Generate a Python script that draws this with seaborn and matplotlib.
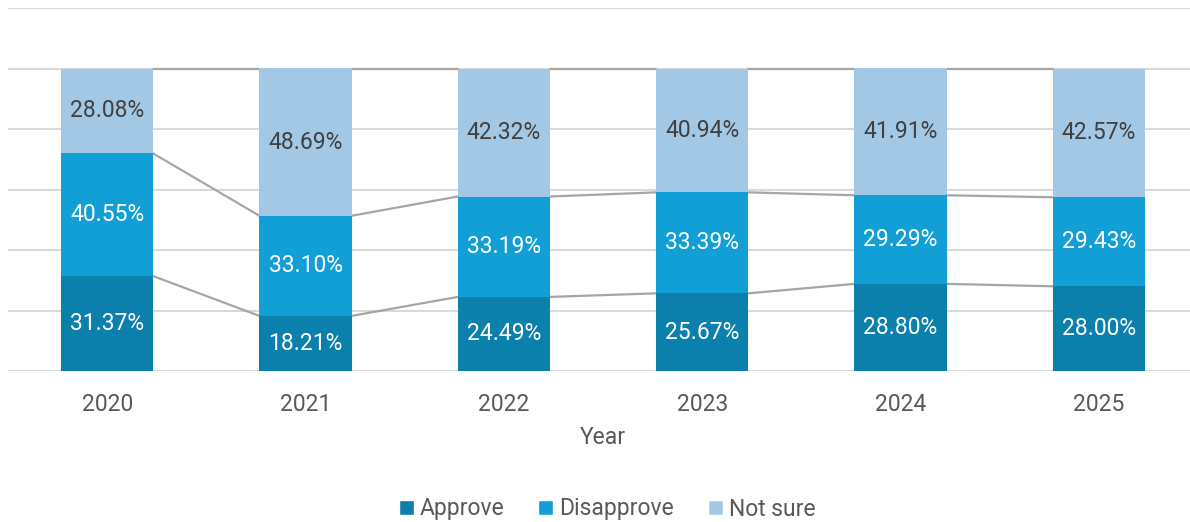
import numpy as np
import pandas as pd
import matplotlib.pyplot as plt
import seaborn as sns
from matplotlib.patches import Patch

years = ["2020", "2021", "2022", "2023", "2024", "2025"]
approve = [31.37, 18.21, 24.49, 25.67, 28.80, 28.00]
disapprove = [40.55, 33.10, 33.19, 33.39, 29.29, 29.43]
not_sure = [28.08, 48.69, 42.32, 40.94, 41.91, 42.57]

series = ["Approve", "Disapprove", "Not sure"]
colors = ["#0b80ad", "#129fd6", "#a2c8e6"]
label_colors = ["white", "white", "#404040"]

df = pd.DataFrame({"Year": years, "Approve": approve,
                   "Disapprove": disapprove, "Not sure": not_sure})

sns.set_style("white")
plt.rcParams["font.family"] = ["Roboto", "DejaVu Sans"]

fig = plt.figure(figsize=(11.9, 5.22), dpi=100)
ax = fig.add_axes([8 / 1190, 151 / 522, 1190 / 1190, 363 / 522])

# stacked bars, one layer at a time using bottom=
bottom = np.zeros(len(years))
layers = []
for s, c in zip(series, colors):
    sns.barplot(data=df, x="Year", y=s, color=c, width=0.464, bottom=bottom,
                ax=ax, zorder=3, saturation=1, linewidth=0)
    layers.append(bottom.copy())
    bottom = bottom + df[s].values

ax.set_ylim(0, 120)
ax.set_xlim(-0.5, len(years) - 0.5)
ax.set_yticks([0, 20, 40, 60, 80, 100, 120])
ax.set_yticklabels([])
ax.tick_params(axis="y", length=0)
ax.tick_params(axis="x", length=0, labelsize=16.5, labelcolor="#595959", pad=16)
ax.grid(axis="y", color="#d9d9d9", linewidth=1.5, zorder=0)
for sp in ax.spines.values():
    sp.set_visible(False)
ax.set_ylabel("")
ax.set_xlabel("Year", fontsize=16.5, color="#595959", labelpad=7)

# series lines between bar tops
n = len(years)
for i, s in enumerate(series):
    bars = ax.patches[i * n:(i + 1) * n]
    for a, b in zip(bars[:-1], bars[1:]):
        ax.plot([a.get_x() + a.get_width(), b.get_x()],
                [a.get_y() + a.get_height(), b.get_y() + b.get_height()],
                color="#a6a6a6", linewidth=1.6, zorder=2)

# data labels
for i, s in enumerate(series):
    vals = df[s].values
    for j in range(n):
        ax.text(j, layers[i][j] + vals[j] / 2, f"{vals[j]:.2f}%",
                ha="center", va="center", fontsize=16.5,
                color=label_colors[i], zorder=4)

handles = [Patch(facecolor=c, label=s) for s, c in zip(series, colors)]
fig.legend(handles=handles, loc="center", bbox_to_anchor=(607 / 1190, 1 - 509 / 522),
           ncol=3, frameon=False, fontsize=16.5, handlelength=0.65,
           handleheight=0.65, handletextpad=0.25, columnspacing=1.5,
           labelcolor="#595959")

fig.savefig("out.png", dpi=100)
